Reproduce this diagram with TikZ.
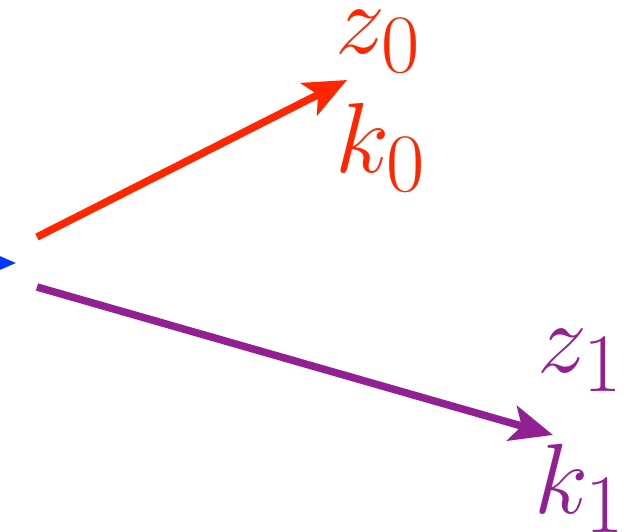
\documentclass[tikz,border=0pt]{standalone}
\usepackage{tikz}
\usetikzlibrary{arrows.meta, positioning}
\definecolor{vecred}{RGB}{255,38,0}
\definecolor{vecpurple}{RGB}{146,32,146}
\definecolor{vecblue}{RGB}{0,55,255}

\begin{document}
\begin{tikzpicture}[
  x=0.02cm, y=-0.02cm,
  vec/.style={line width=0.15cm, -{Stealth[length=0.85cm, width=0.72cm, inset=0.2cm]}},
  lbl/.style={inner sep=0pt, anchor=base west, font=\Huge, scale=2.28, transform shape}
]
\useasboundingbox (0,0) rectangle (629,531);
\clip (0,0) rectangle (629,531);

% points
\coordinate (o0) at (37,237);
\coordinate (t0) at (347,80);
\coordinate (o1) at (37,287);
\coordinate (t1) at (553,435);
\coordinate (ob) at (-120,263);
\coordinate (tb) at (16,263);

% vectors
\draw[vec, vecblue] (ob) -- (tb);
\draw[vec, vecred] (o0) -- (t0);
\draw[vec, vecpurple] (o1) -- (t1);

% labels
\node[lbl, text=vecred]    (z0) at (335,53)  {$z_0$};
\node[lbl, text=vecred]    (k0) at (335,172) {$k_0$};
\node[lbl, text=vecpurple] (z1) at (537,372) {$z_1$};
\node[lbl, text=vecpurple] (k1) at (534,513) {$k_1$};
\end{tikzpicture}
\end{document}
